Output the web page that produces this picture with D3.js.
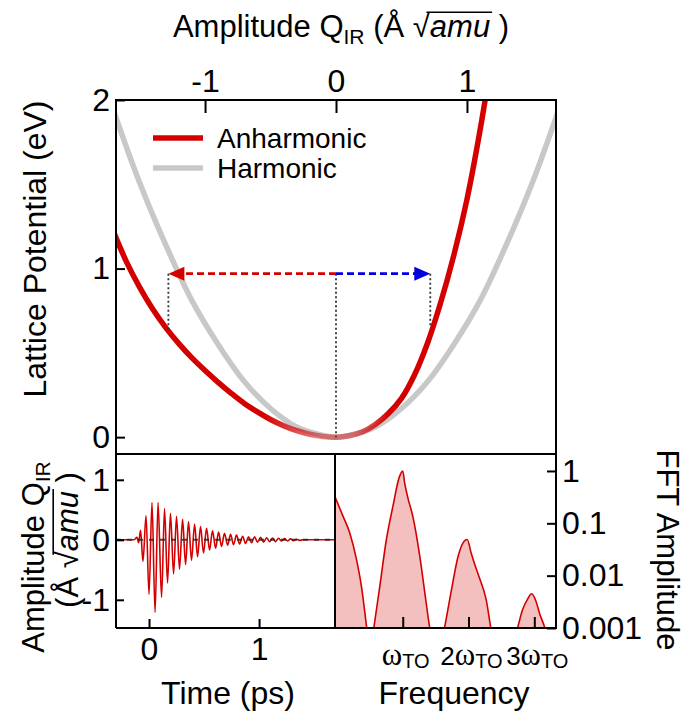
<!DOCTYPE html>
<html>
<head>
<meta charset="utf-8">
<script src="https://cdn.jsdelivr.net/npm/d3@7"></script>
<style>
body { margin: 0; background: #fff; }
svg text { font-family: "Liberation Sans", Arial, sans-serif; fill: #000; }
</style>
</head>
<body>
<svg width="689" height="719"></svg>
<script>
// ---- data ----
// lattice potential, harmonic
var harmQ = [-1.7, -1.5, -1.3, -1.1, -0.9, -0.7, -0.5, -0.3, -0.1, 0, 0.1, 0.3, 0.5, 0.7, 0.9, 1.1, 1.3, 1.5, 1.7];
var harmV = [1.94, 1.51, 1.14, 0.81, 0.55, 0.33, 0.17, 0.06, 0.01, 0, 0.01, 0.06, 0.17, 0.33, 0.55, 0.81, 1.14, 1.51, 1.94];
// lattice potential, anharmonic
var anhQ = [-1.7, -1.6, -1.5, -1.4, -1.3, -1.2, -1.1, -1.0, -0.9, -0.8, -0.7, -0.6, -0.5, -0.4, -0.3, -0.2, -0.1, 0, 0.1, 0.2, 0.3, 0.4, 0.5, 0.6, 0.7, 0.8, 0.9, 1.0, 1.1, 1.2];
var anhV = [1.22, 1.04, 0.89, 0.76, 0.65, 0.555, 0.47, 0.395, 0.325, 0.26, 0.20, 0.15, 0.105, 0.068, 0.038, 0.017, 0.004, 0, 0.008, 0.03, 0.075, 0.14, 0.23, 0.37, 0.56, 0.80, 1.08, 1.41, 1.82, 2.3];
// arrows: energy level and turning points
var arrowV = 0.97, turnLeft = -1.28, turnRight = 0.72, turnLeftV = 0.63, turnRightV = 0.65;

// time trace, extrema of Q_IR(t)
var sigT = [-0.30, -0.136, -0.109, -0.095, -0.077, -0.055, -0.027, 0, 0.027, 0.055, 0.082, 0.114, 0.141, 0.168, 0.195, 0.223, 0.25, 0.277, 0.305, 0.332, 0.359, 0.386, 0.414, 0.441, 0.468, 0.495, 0.523, 0.55, 0.577, 0.605, 0.632, 0.659, 0.686, 0.714, 0.741, 0.768, 0.795, 0.823, 0.85, 0.877, 0.905, 0.932, 0.959, 0.986, 1.014, 1.041, 1.068, 1.095, 1.123, 1.15, 1.177, 1.205, 1.232, 1.259, 1.286, 1.314, 1.341, 1.368, 1.40, 1.69];
var sigQ = [0, 0, 0.04, -0.05, 0.16, -0.36, 0.40, -0.91, 0.62, -1.21, 0.62, -0.96, 0.52, -0.72, 0.44, -0.57, 0.39, -0.49, 0.34, -0.41, 0.30, -0.34, 0.26, -0.28, 0.22, -0.22, 0.19, -0.17, 0.15, -0.14, 0.13, -0.11, 0.11, -0.09, 0.09, -0.08, 0.08, -0.07, 0.06, -0.06, 0.05, -0.05, 0.05, -0.04, 0.04, -0.04, 0.035, -0.03, 0.03, -0.03, 0.025, -0.02, 0.02, -0.02, 0.015, -0.015, 0.01, -0.01, 0, 0];

// FFT spectrum (frequency in units of w_TO)
var fftF = [-0.03, 0.096, 0.197, 0.298, 0.373, 0.45, 0.505, 0.56, 0.65, 0.75, 0.85, 0.95, 1.0, 1.03, 1.08, 1.155, 1.26, 1.33, 1.41, 1.52, 1.635, 1.74, 1.84, 1.91, 1.98, 2.04, 2.09, 2.16, 2.27, 2.34, 2.54, 2.745, 2.82, 2.90, 2.96, 3.02, 3.08, 3.16, 3.25, 3.34];
var fftA = [0.32, 0.133, 0.064, 0.020, 0.0061, 0.00106, 0.0003, 0.001, 0.0061, 0.048, 0.21, 0.78, 1.0, 0.58, 0.30, 0.133, 0.023, 0.0053, 0.001, 0.0002, 0.001, 0.0053, 0.023, 0.041, 0.049, 0.027, 0.017, 0.0095, 0.0034, 0.001, 0.0002, 0.001, 0.0022, 0.0036, 0.0045, 0.0034, 0.0019, 0.001, 0.0003, 0.0003];

var qTicks = [-1, 0, 1], vTicks = [0, 1, 2];
var tTicks = [0, 1], sTicks = [-1, 0, 1];
var fTicks = [1, 2, 3], aTicks = [1, 0.1, 0.01, 0.001];
var fTickLabels = ["", "2", "3"];

var RED = "#d40000", GRAY = "#c8c8c8", BLUE = "#0000dd";

var svg = d3.select("svg");

// ---- scales ----
var L = 116, R = 556, M = 335, T = 100, MID = 454, B = 628;
var xQ = d3.scaleLinear().domain([-1.68, 1.68]).range([L, R]);
var yV = d3.scaleLinear().domain([-0.1, 2]).range([MID, T]);
var xT = d3.scaleLinear().domain([-0.30, 1.69]).range([L, M]);
var yS = d3.scaleLinear().domain([-1.47, 1.43]).range([B, MID]);
var xF = d3.scaleLinear().domain([-0.03, 3.33]).range([M, R]);
var yF = d3.scaleLog().domain([0.001, 2.11]).range([B, MID]);

var defs = svg.append("defs");
function clip(id, x0, y0, x1, y1) {
    defs.append("clipPath").attr("id", id).append("rect")
        .attr("x", x0).attr("y", y0).attr("width", x1 - x0).attr("height", y1 - y0);
}
clip("cTop", L, T, R, MID);
clip("cTime", L, MID, M, B);
clip("cFft", M, MID, R, B);

// red fades into the grey near the bottom of the well
var grad = defs.append("linearGradient").attr("id", "redFade").attr("gradientUnits", "userSpaceOnUse")
    .attr("x1", xQ(-1.68)).attr("x2", xQ(1.68)).attr("y1", 0).attr("y2", 0);
[[-1.68, 1], [-0.55, 1], [-0.1, 0.45], [0.12, 0.45], [0.4, 1], [1.68, 1]].forEach(function (s) {
    grad.append("stop").attr("offset", (s[0] + 1.68) / 3.36).attr("stop-color", RED).attr("stop-opacity", s[1]);
});

function zip(a, b) { return a.map(function (d, i) { return [d, b[i]]; }); }

// ---- top panel: potentials ----
var gPot = svg.append("g").attr("clip-path", "url(#cTop)");
var lineV = d3.line().x(function (d) { return xQ(d[0]); }).y(function (d) { return yV(d[1]); })
    .curve(d3.curveCatmullRom);
gPot.append("path").attr("d", lineV(zip(harmQ, harmV)))
    .attr("fill", "none").attr("stroke", GRAY).attr("stroke-width", 5.5);
gPot.append("path").attr("d", lineV(zip(anhQ, anhV)))
    .attr("fill", "none").attr("stroke", "url(#redFade)").attr("stroke-width", 5.5);

// dotted guides
var dotted = [[turnLeft, arrowV, turnLeftV], [0, arrowV, 0], [turnRight, arrowV, turnRightV]];
gPot.selectAll(".guide").data(dotted).enter().append("line")
    .attr("x1", function (d) { return xQ(d[0]); }).attr("x2", function (d) { return xQ(d[0]); })
    .attr("y1", function (d) { return yV(d[1]); }).attr("y2", function (d) { return yV(d[2]); })
    .attr("stroke", "#333").attr("stroke-width", 1.8).attr("stroke-dasharray", "2,2.5");

// dashed arrows
var ay = yV(arrowV);
gPot.append("line").attr("x1", xQ(0)).attr("x2", xQ(turnLeft) + 15).attr("y1", ay).attr("y2", ay)
    .attr("stroke", RED).attr("stroke-width", 2.6).attr("stroke-dasharray", "7,4");
gPot.append("line").attr("x1", xQ(0)).attr("x2", xQ(turnRight) - 15).attr("y1", ay).attr("y2", ay)
    .attr("stroke", BLUE).attr("stroke-width", 2.6).attr("stroke-dasharray", "7,4");
gPot.append("path").attr("fill", RED)
    .attr("d", "M" + xQ(turnLeft) + "," + ay + "L" + (xQ(turnLeft) + 16) + "," + (ay - 7) + "L" + (xQ(turnLeft) + 16) + "," + (ay + 7) + "Z");
gPot.append("path").attr("fill", BLUE)
    .attr("d", "M" + xQ(turnRight) + "," + ay + "L" + (xQ(turnRight) - 16) + "," + (ay - 7) + "L" + (xQ(turnRight) - 16) + "," + (ay + 7) + "Z");

// legend
var leg = svg.append("g");
[["Anharmonic", RED, 138], ["Harmonic", GRAY, 168]].forEach(function (d) {
    leg.append("line").attr("x1", 153).attr("x2", 203).attr("y1", d[2]).attr("y2", d[2])
        .attr("stroke", d[1]).attr("stroke-width", 5.5);
    leg.append("text").attr("x", 217).attr("y", d[2] + 9.5).style("font-size", "28px").text(d[0]);
});

// ---- bottom left: time trace ----
var gTime = svg.append("g").attr("clip-path", "url(#cTime)");
var lineS = d3.line().x(function (d) { return xT(d[0]); }).y(function (d) { return yS(d[1]); })
    .curve(d3.curveMonotoneX);
gTime.append("path").attr("d", lineS(zip(sigT, sigQ)))
    .attr("fill", "none").attr("stroke", RED).attr("stroke-width", 1.6);
gTime.append("line").attr("x1", L).attr("x2", M).attr("y1", yS(0)).attr("y2", yS(0))
    .attr("stroke", "#222").attr("stroke-width", 2).attr("stroke-dasharray", "5,6").attr("opacity", 0.8);

// ---- bottom right: FFT ----
var gFft = svg.append("g").attr("clip-path", "url(#cFft)");
var fdata = zip(fftF, fftA);
gFft.append("path")
    .attr("d", d3.area().x(function (d) { return xF(d[0]); }).y0(yF(0.001)).y1(function (d) { return yF(d[1]); })
        .curve(d3.curveMonotoneX)(fdata))
    .attr("fill", "#f3bfbf");
gFft.append("path")
    .attr("d", d3.line().x(function (d) { return xF(d[0]); }).y(function (d) { return yF(d[1]); })
        .curve(d3.curveMonotoneX)(fdata))
    .attr("fill", "none").attr("stroke", RED).attr("stroke-width", 1.6);

// ---- axes ----
function styleAxis(g) {
    g.select(".domain").remove();
    g.selectAll(".tick line").attr("stroke", "#000").attr("stroke-width", 2);
    g.selectAll(".tick text").style("font-size", "32px").attr("fill", "#000")
        .style("font-family", "'Liberation Sans', Arial, sans-serif");
}
var fmt = function (d) { return String(d); };
svg.append("g").attr("transform", "translate(0," + T + ")")
    .call(d3.axisTop(xQ).tickValues(qTicks).tickSize(-13).tickPadding(8).tickFormat(fmt)).call(styleAxis);
svg.append("g").attr("transform", "translate(" + L + ",0)")
    .call(d3.axisLeft(yV).tickValues(vTicks).tickSize(-9).tickPadding(6).tickFormat(fmt)).call(styleAxis);
svg.append("g").attr("transform", "translate(" + L + ",0)")
    .call(d3.axisLeft(yS).tickValues(sTicks).tickSize(-8).tickPadding(6).tickFormat(fmt)).call(styleAxis);
svg.append("g").attr("transform", "translate(0," + B + ")")
    .call(d3.axisBottom(xT).tickValues(tTicks).tickSize(-9).tickPadding(9).tickFormat(fmt)).call(styleAxis);
svg.append("g").attr("transform", "translate(" + R + ",0)")
    .call(d3.axisRight(yF).tickValues(aTicks).tickSize(-9).tickPadding(6).tickFormat(fmt)).call(styleAxis);
svg.append("g").attr("transform", "translate(0," + B + ")")
    .call(d3.axisBottom(xF).tickValues(fTicks).tickSize(-11).tickFormat("")).call(styleAxis);

// omega tick labels
fTicks.forEach(function (k, i) {
    var t = svg.append("text").attr("x", xF(k) + 3).attr("y", 665).attr("text-anchor", "middle");
    if (fTickLabels[i]) t.append("tspan").style("font-size", "26px").text(fTickLabels[i]);
    t.append("tspan").style("font-family", "'Liberation Serif', 'Times New Roman', serif").style("font-size", "31px").text("\u03C9");
    t.append("tspan").style("font-size", "20px").attr("dy", 3).text("TO");
});

// frames
svg.append("path").attr("stroke", "#000").attr("stroke-width", 2).attr("fill", "none")
    .attr("d", "M" + L + "," + B + "V" + T + "H" + R + "V" + B + "H" + L +
        "M" + L + "," + MID + "H" + R + "M" + M + "," + MID + "V" + B);

// ---- axis titles ----
function rootBar(g, node, i0, i1, fs) {
    var a = node.getExtentOfChar(i0), b = node.getExtentOfChar(i1);
    var base = node.getStartPositionOfChar(i0).y;
    g.append("line").attr("x1", a.x + a.width * 0.8).attr("x2", b.x + b.width + 2)
        .attr("y1", base - fs * 0.8).attr("y2", base - fs * 0.8)
        .attr("stroke", "#000").attr("stroke-width", 1.6);
}
function qTitle(t, fs, withName) {
    if (withName) {
        t.append("tspan").text("Amplitude Q");
        t.append("tspan").style("font-size", (fs * 0.68) + "px").attr("dy", fs * 0.22).text("IR");
        t.append("tspan").attr("dy", -fs * 0.22).text(" (\u00C5 ");
    } else {
        t.append("tspan").text("(\u00C5 ");
    }
    t.append("tspan").text("\u221A");
    t.append("tspan").style("font-style", "italic").text("amu");
    t.append("tspan").text(" )");
}

var gTop = svg.append("g").attr("transform", "translate(341,37)");
var tTop = gTop.append("text").attr("text-anchor", "middle").style("font-size", "31px");
qTitle(tTop, 31, true);
rootBar(gTop, tTop.node(), 17, 20, 31);

svg.append("text").attr("transform", "translate(46,249) rotate(-90)").attr("text-anchor", "middle")
    .style("font-size", "32px").text("Lattice Potential (eV)");

var gL1 = svg.append("g").attr("transform", "translate(44,557) rotate(-90)");
var tL1 = gL1.append("text").attr("text-anchor", "middle").style("font-size", "31px");
tL1.append("tspan").text("Amplitude Q");
tL1.append("tspan").style("font-size", "21px").attr("dy", 6).text("IR");
var gL2 = svg.append("g").attr("transform", "translate(78,540) rotate(-90)");
var tL2 = gL2.append("text").attr("text-anchor", "middle").style("font-size", "31px");
qTitle(tL2, 31, false);
rootBar(gL2, tL2.node(), 3, 6, 31);

svg.append("text").attr("x", 228).attr("y", 704).attr("text-anchor", "middle")
    .style("font-size", "32px").text("Time (ps)");
svg.append("text").attr("x", 454).attr("y", 704).attr("text-anchor", "middle")
    .style("font-size", "32px").text("Frequency");
svg.append("text").attr("transform", "translate(657,550) rotate(90)").attr("text-anchor", "middle")
    .style("font-size", "31px").text("FFT Amplitude");
</script>
</body>
</html>
